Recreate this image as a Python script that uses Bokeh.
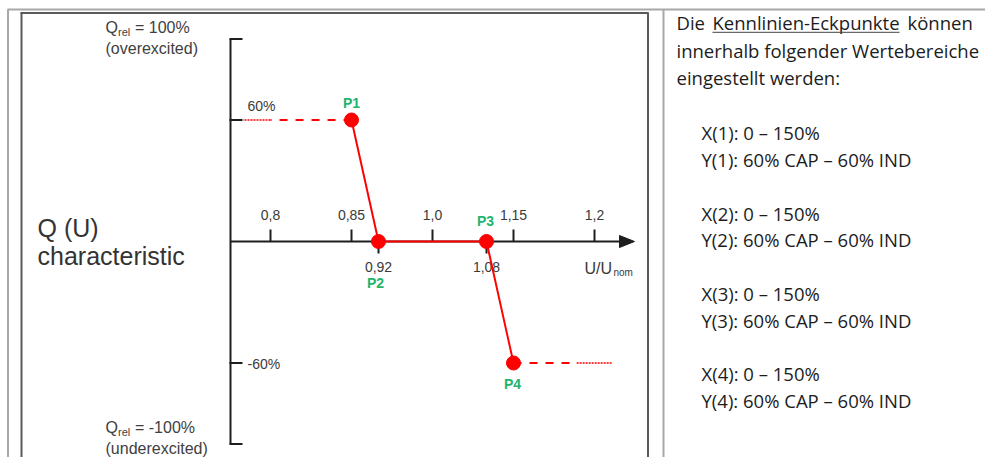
import numpy as np
from bokeh.plotting import figure
from bokeh.models import Range1d, ColumnDataSource
from bokeh.core.properties import value
from bokeh.embed import file_html
from bokeh.resources import INLINE

# ---------------- data ----------------
u_ticks_top = [0.8, 0.85, 1.0, 1.15, 1.2]
u_tick_labels_top = ["0,8", "0,85", "1,0", "1,15", "1,2"]
u_ticks_bottom = [0.92, 1.08]
u_tick_labels_bottom = ["0,92", "1,08"]

point_names = ["P1", "P2", "P3", "P4"]
point_u = [0.85, 0.92, 1.08, 1.15]
point_q = [60, 0, 0, -60]

q_bracket = [100, 60, -60, -100]
q_labels = [60, -60]
q_label_text = ["60%", "-60%"]

ext_left_dash_u = [0.85, 0.80]
ext_left_dot_u = [0.80, 0.783]
ext_right_dash_u = [1.15, 1.189]
ext_right_dot_u = [1.189, 1.211]

panel_intro = ["innerhalb folgender Wertebereiche", "eingestellt werden:"]
panel_ranges = [
    "X(1): 0 \u2013 150%", "Y(1): 60% CAP \u2013 60% IND",
    "X(2): 0 \u2013 150%", "Y(2): 60% CAP \u2013 60% IND",
    "X(3): 0 \u2013 150%", "Y(3): 60% CAP \u2013 60% IND",
    "X(4): 0 \u2013 150%", "Y(4): 60% CAP \u2013 60% IND",
]

# ---------------- layout (schematic, non-linear U axis) ----------------
u_knots = [0.75, 0.8, 0.85, 0.92, 1.0, 1.08, 1.15, 1.2, 1.25]
s_knots = [-1.0, 0.0, 1.0, 4 / 3, 2.0, 8 / 3, 3.0, 4.0, 5.0]


def spos(u):
    return list(np.interp(u, u_knots, s_knots))


K = 0.36  # baseline correction (em)


def bl(b, fs):
    return b - K * fs


S0, S_PX = 271, 81          # screen x of s=0, px per s unit
Q0, Q_PX = 242, 2.025       # screen y of Q=0, px per %
X0, X1, Y0, Y1 = 1, 986, 1, 458

p = figure(width=X1 - X0, height=Y1 - Y0,
           x_range=Range1d(X0, X1), y_range=Range1d(Y1, Y0),
           output_backend="svg", toolbar_location=None,
           x_axis_type=None, y_axis_type=None, min_border=0,
           outline_line_color=None, background_fill_color="white")
p.extra_x_ranges = {"s": Range1d((X0 - S0) / S_PX, (X1 - S0) / S_PX)}
p.extra_y_ranges = {"q": Range1d((Q0 - Y1) / Q_PX, (Q0 - Y0) / Q_PX)}

ARIAL = value("Liberation Sans")
PANEL = value("Open Sans")
AX = "#1e1e1e"

# ---------------- frames ----------------
p.segment(x0=[8, 8.5, 664], y0=[10, 10, 10], x1=[993, 8.5, 664], y1=[10, 470, 470],
          line_color="#a8a8a8", line_width=2)
p.segment(x0=[21, 22, 648.5], y0=[13.5, 13, 13], x1=[649, 22, 648.5], y1=[13.5, 470, 470],
          line_color="#5a5a5a", line_width=2)

# ---------------- Q axis bracket ----------------
p.segment(x0=[231], y0=[q_bracket[0]], x1=[231], y1=[q_bracket[-1]],
          y_range_name="q", line_color=AX, line_width=2)
p.segment(x0=[230] * len(q_bracket), y0=q_bracket, x1=[243] * len(q_bracket), y1=q_bracket,
          y_range_name="q", line_color=AX, line_width=2)

# ---------------- U axis ----------------
p.segment(x0=[231], y0=[0], x1=[622], y1=[0], y_range_name="q", line_color=AX, line_width=2)
p.patch(x=[620, 635, 620], y=[236, 242, 248], fill_color=AX, line_color=AX)
st = spos(u_ticks_top)
p.segment(x0=st, y0=[242] * len(st), x1=st, y1=[230] * len(st),
          x_range_name="s", line_color=AX, line_width=2)
sb = spos(u_ticks_bottom)
p.segment(x0=sb, y0=[242] * len(sb), x1=sb, y1=[254] * len(sb),
          x_range_name="s", line_color=AX, line_width=2)

TC = "#3a3a3a"
p.text(x=st, y=[bl(221, 14)] * len(st), text=u_tick_labels_top, x_range_name="s",
       text_font=ARIAL, text_font_size="14px", text_color=TC,
       text_align="center", text_baseline="alphabetic")
p.text(x=sb, y=[bl(272.5, 14)] * len(sb), text=u_tick_labels_bottom, x_range_name="s",
       text_font=ARIAL, text_font_size="14px", text_color=TC,
       text_align="center", text_baseline="alphabetic")
p.text(x=[585], y=[bl(275, 16)], text=["U/U"], text_font=ARIAL, text_font_size="16px",
       text_color=TC, text_baseline="alphabetic")
p.text(x=[614], y=[bl(277, 10)], text=["nom"], text_font=ARIAL, text_font_size="10px",
       text_color=TC, text_baseline="alphabetic")

p.text(x=[248] * 2, y=q_labels, text=q_label_text, y_range_name="q",
       y_offset=[-13.8, 0.5], text_font=ARIAL, text_font_size="14px",
       text_color=TC, text_baseline="alphabetic")

# ---------------- characteristic ----------------
sp = spos(point_u)
RED = "#ff0000"
p.line(x=spos(ext_left_dash_u), y=[point_q[0]] * 2, x_range_name="s", y_range_name="q",
       line_color=RED, line_width=2, line_dash="8 8")
p.line(x=spos(ext_left_dot_u), y=[point_q[0]] * 2, x_range_name="s", y_range_name="q",
       line_color=RED, line_width=1.5, line_dash="2 1")
p.line(x=spos(ext_right_dash_u), y=[point_q[-1]] * 2, x_range_name="s", y_range_name="q",
       line_color=RED, line_width=2, line_dash="8 8")
p.line(x=spos(ext_right_dot_u), y=[point_q[-1]] * 2, x_range_name="s", y_range_name="q",
       line_color=RED, line_width=1.5, line_dash="2 1")
p.line(x=sp, y=point_q, x_range_name="s", y_range_name="q",
       line_color=RED, line_width=2)
p.scatter(x=sp, y=point_q, x_range_name="s", y_range_name="q", size=14,
          fill_color=RED, line_color=RED)

src = ColumnDataSource(dict(x=sp, y=point_q, t=point_names,
                            dx=[0, -3, -1, -1], dy=[-17.5, 41, -20.3, 20.5]))
p.text(x="x", y="y", text="t", source=src, x_range_name="s", y_range_name="q",
       x_offset="dx", y_offset="dy", text_font=ARIAL, text_font_size="14px",
       text_font_style="bold", text_color="#22b46c", text_align="center",
       text_baseline="alphabetic")

# ---------------- left labels ----------------
LBL = "#404040"


def lbl(x, b, t, fs):
    p.text(x=[x], y=[bl(b, fs)], text=[t], text_font=ARIAL, text_font_size=f"{fs}px",
           text_color=LBL, text_baseline="alphabetic")


lbl(106, 34, "Q", 16)
lbl(118.5, 36.5, "rel", 11)
lbl(135.5, 34, "= 100%", 16)
lbl(106, 55, "(overexcited)", 16)
lbl(106, 434, "Q", 16)
lbl(118.5, 436.5, "rel", 11)
lbl(135.5, 434, "= -100%", 16)
lbl(106, 454.5, "(underexcited)", 16)

p.text(x=[38, 38], y=[bl(237, 25), bl(265.5, 25)], text=["Q (U)", "characteristic"],
       text_font=ARIAL, text_font_size="25px", text_color="#333333",
       text_baseline="alphabetic")

# ---------------- right panel ----------------
PC = "#1c1c1c"
PF = 18.5
p.text(x=[677, 713, 908], y=[bl(30, PF)] * 3, text=["Die", "Kennlinien-Eckpunkte", "können"],
       text_font=PANEL, text_font_size=f"{PF}px", text_color=PC, text_baseline="alphabetic")
p.segment(x0=[713], y0=[32.8], x1=[900], y1=[32.8], line_color="#444444", line_width=1)
p.text(x=[677] * 2, y=[bl(57.5, PF), bl(85, PF)], text=panel_intro, text_font=PANEL,
       text_font_size=f"{PF}px", text_color=PC, text_baseline="alphabetic")
ry = []
for base in [140, 220.5, 301, 381]:
    ry += [bl(base, PF), bl(base + 26.5, PF)]
p.text(x=[702] * len(panel_ranges), y=ry, text=panel_ranges, text_font=PANEL,
       text_font_size=f"{PF}px", text_color=PC, text_baseline="alphabetic")

open("out.html", "w").write(file_html(p, INLINE))
